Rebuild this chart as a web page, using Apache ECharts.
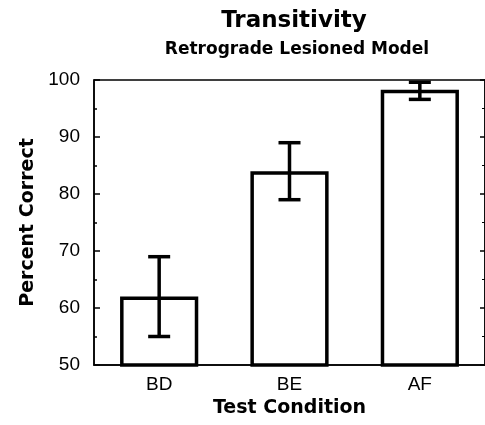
<!DOCTYPE html>
<html>
<head>
<meta charset="utf-8">
<script src="https://cdn.jsdelivr.net/npm/echarts@6/dist/echarts.min.js"></script>
<style>
  html, body { margin: 0; padding: 0; background: #fff; }
  #chart { width: 485px; height: 425px; }
</style>
</head>
<body>
<div id="chart"></div>
<script>
// data
const categories = ['BD', 'BE', 'AF']
const means = [62, 84, 98.3]
const errLow = [55, 79, 96.6]
const errHigh = [69, 89, 99.6]
const yTicks = [50, 60, 70, 80, 90, 100]

const font = '"Liberation Sans", Arial, Helvetica, sans-serif'
const boldFont = '"DejaVu Sans", "Liberation Sans", Arial, sans-serif'
const chart = echarts.init(document.getElementById('chart'))

const option = {
  backgroundColor: '#fff',
  animation: false,
  title: [
    {
      text: 'Transitivity',
      left: 289, top: 5, textAlign: 'center',
      textStyle: { fontFamily: boldFont, fontSize: 23, fontWeight: 'bold', color: '#000' }
    },
    {
      text: 'Retrograde Lesioned Model',
      left: 292, top: 36, textAlign: 'center',
      textStyle: { fontFamily: boldFont, fontSize: 17, fontWeight: 'bold', color: '#000' }
    }
  ],
  grid: {
    left: 94, right: -1, top: 80, bottom: 60,
    show: true, borderColor: '#000', borderWidth: 1.5
  },
  xAxis: {
    type: 'category',
    data: categories,
    name: 'Test Condition',
    nameLocation: 'middle',
    nameGap: 33,
    nameTextStyle: { fontFamily: boldFont, fontSize: 19, fontWeight: 'bold', color: '#000' },
    axisLine: { lineStyle: { color: '#000', width: 1.5 } },
    axisTick: { show: false },
    axisLabel: { fontFamily: font, fontSize: 19, color: '#000', margin: 10 }
  },
  yAxis: [
    {
      type: 'value',
      min: yTicks[0], max: yTicks[yTicks.length - 1], interval: 10,
      name: 'Percent Correct',
      nameLocation: 'middle',
      nameGap: 55,
      nameTextStyle: { fontFamily: boldFont, fontSize: 19, fontWeight: 'bold', color: '#000' },
      axisLine: { show: true, lineStyle: { color: '#000', width: 1.5 } },
      axisTick: { show: true, inside: true, length: 6, lineStyle: { color: '#000', width: 1.5 } },
      minorTick: { show: true, splitNumber: 2, length: 3, lineStyle: { color: '#000', width: 1.5 } },
      splitLine: { show: false },
      axisLabel: { fontFamily: font, fontSize: 19, color: '#000', margin: 14 }
    },
    {
      type: 'value', position: 'right',
      min: yTicks[0], max: yTicks[yTicks.length - 1], interval: 10,
      axisLine: { show: true, lineStyle: { color: '#000', width: 1.5 } },
      axisTick: { show: true, inside: true, length: 5, lineStyle: { color: '#000', width: 1.5 } },
      minorTick: { show: true, splitNumber: 2, length: 3, lineStyle: { color: '#000', width: 1 } },
      splitLine: { show: false },
      axisLabel: { show: false }
    }
  ],
  series: [
    {
      type: 'bar',
      data: means,
      barWidth: '60%',
      itemStyle: { color: '#fff', borderColor: '#000', borderWidth: 3.5 },
      z: 2
    },
    {
      type: 'custom',
      z: 3,
      data: categories.map((c, i) => [i, errLow[i], errHigh[i]]),
      renderItem: function (params, api) {
        const lo = api.coord([api.value(0), api.value(1)])
        const hi = api.coord([api.value(0), api.value(2)])
        const half = 11
        const style = { stroke: '#000', lineWidth: 3.5 }
        return {
          type: 'group',
          children: [
            { type: 'line', shape: { x1: lo[0], y1: lo[1], x2: hi[0], y2: hi[1] }, style: style },
            { type: 'line', shape: { x1: lo[0] - half, y1: lo[1], x2: lo[0] + half, y2: lo[1] }, style: style },
            { type: 'line', shape: { x1: hi[0] - half, y1: hi[1], x2: hi[0] + half, y2: hi[1] }, style: style }
          ]
        }
      }
    }
  ]
}
chart.setOption(option)
</script>
</body>
</html>
